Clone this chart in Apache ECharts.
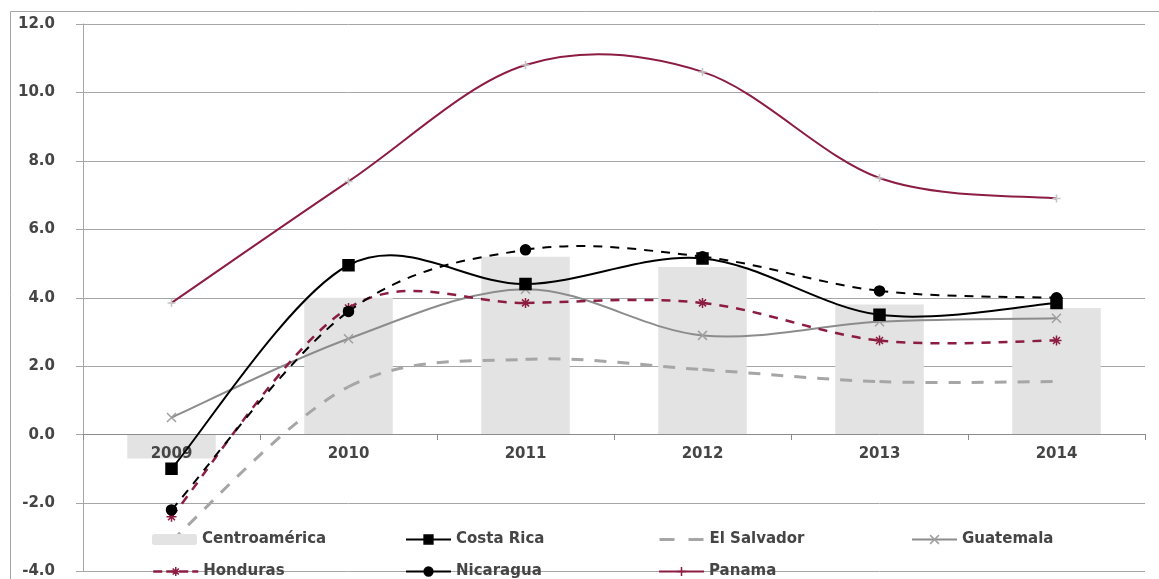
<!DOCTYPE html>
<html>
<head>
<meta charset="utf-8">
<script src="https://cdn.jsdelivr.net/npm/echarts@6/dist/echarts.min.js"></script>
<style>
  html, body { margin: 0; padding: 0; background: #fff; }
  #chart { width: 1159px; height: 579px; }
</style>
</head>
<body>
<div id="chart"></div>
<script>
// values
const years = ['2009', '2010', '2011', '2012', '2013', '2014'];
const centroamerica = [-0.7, 4.0, 5.2, 4.9, 3.8, 3.7];
const costaRica = [-1.0, 4.95, 4.4, 5.15, 3.5, 3.85];
const elSalvador = [-3.1, 1.4, 2.2, 1.9, 1.55, 1.55];
const guatemala = [0.5, 2.8, 4.25, 2.9, 3.3, 3.4];
const honduras = [-2.4, 3.7, 3.85, 3.85, 2.75, 2.75];
const nicaragua = [-2.2, 3.6, 5.4, 5.2, 4.2, 4.0];
const panama = [3.85, 7.4, 10.8, 10.6, 7.5, 6.9];

const legendNames = ['Centroamérica', 'Costa Rica', 'El Salvador', 'Guatemala', 'Honduras', 'Nicaragua', 'Panama'];

const FONT = 'DejaVu Sans';
const TEXT = '#454545';
const MAROON = '#8c1d40';

const GRID_TOP = 24, GRID_BOTTOM = 5, H = 579;

const xMark = 'path://M0,0L10,10M10,0L0,10';
const starMark = 'path://M5,0L5,10M0,5L10,5M1.5,1.5L8.5,8.5M8.5,1.5L1.5,8.5';
const plusMark = 'path://M5,0L5,10M0,5L10,5';

// line look for each country (Excel style smoothed lines)
const looks = {
  'Costa Rica': { data: costaRica, color: '#000', width: 2, dash: null, symbol: 'rect', size: 11, mark: '#000', z: 6 },
  'El Salvador': { data: elSalvador, color: '#a6a6a6', width: 3, dash: [12, 11], symbol: 'circle', size: 0, mark: 'rgba(0,0,0,0)', z: 3 },
  'Guatemala': { data: guatemala, color: '#8c8c8c', width: 2, dash: null, symbol: xMark, size: 9, mark: '#a0a0a0', z: 4 },
  'Honduras': { data: honduras, color: MAROON, width: 2.5, dash: [9, 8], symbol: starMark, size: 10, mark: MAROON, z: 4 },
  'Nicaragua': { data: nicaragua, color: '#000', width: 2, dash: [9, 8], symbol: 'circle', size: 10, mark: '#000', z: 5 },
  'Panama': { data: panama, color: MAROON, width: 2, dash: null, symbol: plusMark, size: 8, mark: '#c4c4c4', z: 4 }
};

var myChart = echarts.init(document.getElementById('chart'), null, { renderer: 'canvas' });

// catmull-rom style bezier through the points, like Excel's smoothed line
function curveSeries(values, look) {
  return {
    type: 'custom',
    silent: true,
    z: look.z,
    data: values.map(function (v, i) { return [i, v]; }),
    renderItem: function (params, api) {
      var i = params.dataIndex;
      var n = values.length;
      if (i >= n - 1) return null;
      var p0 = api.coord([Math.max(i - 1, 0), values[Math.max(i - 1, 0)]]);
      var p1 = api.coord([i, values[i]]);
      var p2 = api.coord([i + 1, values[i + 1]]);
      var p3 = api.coord([Math.min(i + 2, n - 1), values[Math.min(i + 2, n - 1)]]);
      return {
        type: 'bezierCurve',
        shape: {
          x1: p1[0], y1: p1[1], x2: p2[0], y2: p2[1],
          cpx1: p1[0] + (p2[0] - p0[0]) / 6, cpy1: p1[1] + (p2[1] - p0[1]) / 6,
          cpx2: p2[0] - (p3[0] - p1[0]) / 6, cpy2: p2[1] - (p3[1] - p1[1]) / 6
        },
        style: { fill: null, stroke: look.color, lineWidth: look.width, lineDash: look.dash }
      };
    }
  };
}

// one legend per entry so they sit in a 4-column grid like the original
var legends = legendNames.map(function (name, i) {
  var col = i % 4, row = Math.floor(i / 4);
  var item = { name: name };
  var lk = looks[name];
  if (lk) {
    item.lineStyle = { color: lk.color, width: lk.width, type: lk.dash && name !== 'Nicaragua' ? (name === 'El Salvador' ? [15, 14] : [9, 4]) : 'solid', opacity: 1 };
    item.itemStyle = { color: name === 'Panama' ? MAROON : lk.mark, borderColor: name === 'Panama' ? MAROON : lk.mark, borderWidth: 1.5 };
  }
  return {
    data: [item],
    left: 152 + col * 253,
    top: 532 + row * 32,
    padding: 0,
    itemWidth: 45,
    itemHeight: 11,
    itemGap: 5,
    selectedMode: false,
    textStyle: { fontFamily: FONT, fontSize: 15, fontWeight: 'bold', color: TEXT }
  };
});

var series = [{
  name: 'Centroamérica',
  type: 'bar',
  data: centroamerica,
  barWidth: '50%',
  itemStyle: { color: '#e3e3e3' },
  z: 1
}];

Object.keys(looks).forEach(function (name) {
  var lk = looks[name];
  series.push(curveSeries(lk.data, lk));
  // markers + legend entry
  series.push({
    name: name,
    type: 'line',
    data: lk.data,
    symbol: lk.symbol,
    symbolSize: lk.size,
    lineStyle: { color: lk.color, width: lk.width, opacity: 0 },
    itemStyle: { color: lk.mark, borderColor: lk.mark, borderWidth: 1.5 },
    z: lk.z + 1
  });
});

var option = {
  animation: false,
  backgroundColor: '#fff',
  textStyle: { fontFamily: FONT },
  graphic: [{
    type: 'rect',
    shape: { x: 10.5, y: 11.5, width: 1200, height: 700 },
    style: { fill: 'none', stroke: '#a6a6a6', lineWidth: 1 },
    silent: true
  }],
  legend: legends,
  grid: { left: 83, right: 14, top: GRID_TOP, bottom: GRID_BOTTOM },
  xAxis: {
    type: 'category',
    data: years,
    boundaryGap: true,
    position: 'bottom',
    z: 2,
    // sits on the 0.0 line: 4 of the 16 units above the bottom of the plot
    offset: -(H - GRID_TOP - GRID_BOTTOM) * 4 / 16,
    axisLine: { onZero: false, lineStyle: { color: '#8c8c8c', width: 1 } },
    axisTick: { show: true, length: 6, lineStyle: { color: '#8c8c8c' } },
    axisLabel: {
      fontFamily: FONT, fontSize: 15, fontWeight: 'bold', color: TEXT, margin: 13,
      showMinLabel: true, showMaxLabel: true, hideOverlap: false, interval: 0
    },
    splitLine: { show: false }
  },
  yAxis: {
    type: 'value',
    min: -4,
    max: 12,
    interval: 2,
    axisLine: { show: true, lineStyle: { color: '#a6a6a6' } },
    axisTick: { show: true, inside: false, length: 7, lineStyle: { color: '#a6a6a6' } },
    axisLabel: {
      fontFamily: FONT, fontSize: 15, fontWeight: 'bold', color: TEXT, margin: 28,
      formatter: function (v) { return v.toFixed(1); }
    },
    splitLine: { show: true, lineStyle: { color: '#a6a6a6', width: 1 } }
  },
  series: series
};

option && myChart.setOption(option);
</script>
</body>
</html>
